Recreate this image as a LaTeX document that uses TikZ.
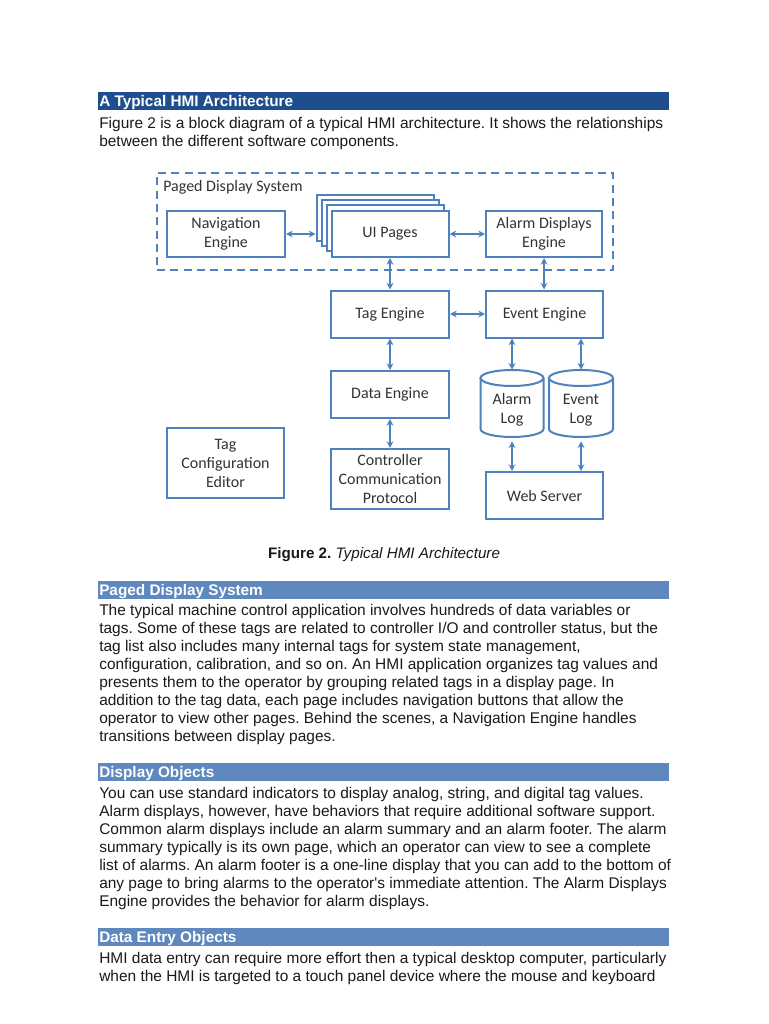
\documentclass[tikz,border=0pt]{standalone}
\usepackage{fontspec}
\setmainfont{Liberation Sans}
\newfontfamily\diagfont{Carlito}
\usetikzlibrary{arrows.meta}
\definecolor{hdark}{HTML}{1F4E8C}
\definecolor{hlight}{HTML}{5F88BE}
\definecolor{boxc}{HTML}{4F81BD}
\definecolor{dtext}{HTML}{333333}
\definecolor{btext}{HTML}{1A1A1A}
\frenchspacing
\begin{document}
\begin{tikzpicture}[x=0.75pt,y=-0.75pt,
  box/.style={draw=boxc,line width=1.5pt,fill=white,inner sep=0pt,align=center,
    font=\diagfont\fontsize{12}{14.2}\selectfont,text=dtext},
  page/.style={draw=boxc,line width=1.5pt,fill=white,inner sep=0pt,
    minimum width=87.75pt,minimum height=34.5pt},
  cyltext/.style={inner sep=0pt,align=center,font=\diagfont\fontsize{12}{14.2}\selectfont,text=dtext},
  cylbox/.style={inner sep=0pt,minimum width=47pt,minimum height=50.25pt},
  conn/.style={draw=boxc,line width=1.5pt,{Stealth[length=5pt,width=5pt]}-{Stealth[length=5pt,width=5pt]}},
  cylline/.style={draw=boxc,line width=1.5pt},
  body/.style={anchor=base west,inner sep=0pt,font=\fontsize{11.6}{12}\selectfont,text=btext},
  bar/.style={anchor=north west,inner sep=0pt,minimum width=428.25pt,minimum height=13.5pt},
  bartext/.style={anchor=base west,inner sep=0pt,font=\bfseries\fontsize{11.5}{12}\selectfont,text=white}
]
\useasboundingbox[fill=white] (0,0) rectangle (768,1024);

% ---- Top heading and paragraph
\node[bar,fill=hdark] (bar1) at (98,92) {};
\node[bartext] (h1) at (99,106) {A Typical HMI Architecture};
\node[body] (p1) at (99,128) {Figure 2 is a block diagram of a typical HMI architecture. It shows the relationships};
\node[body] (p2) at (99,146) {between the different software components.};

% ---- Diagram
\node[draw=boxc,line width=1.5pt,dash pattern=on 6pt off 4pt,minimum width=342pt,minimum height=72.75pt,inner sep=0pt] (pds) at (385,221.5) {};
\node[anchor=west,inner sep=0pt,font=\diagfont\fontsize{12}{14.2}\selectfont,text=dtext] (pdslabel) at (163,187) {Paged Display System};

\node[box,minimum width=88.5pt,minimum height=34.5pt] (nav) at (226,234) {Navigation\\Engine};
\node[page] (page1) at (375,218) {};
\node[page] (page2) at (380,223) {};
\node[page] (page3) at (385,228) {};
\node[box,minimum width=87.75pt,minimum height=34.5pt] (ui) at (390,234) {UI Pages};
\node[box,minimum width=87pt,minimum height=34.5pt] (alarm) at (544,234) {Alarm Displays\\Engine};

\node[box,minimum width=88.5pt,minimum height=35.25pt] (tag) at (390,314) {Tag Engine};
\node[box,minimum width=87.75pt,minimum height=35.25pt] (event) at (544.5,314) {Event Engine};
\node[box,minimum width=88.5pt,minimum height=35.25pt] (data) at (390,394.5) {Data Engine};
\node[box,minimum width=88.5pt,minimum height=45pt] (ctrl) at (390,479) {Controller\\Communication\\Protocol};
\node[box,minimum width=87.75pt,minimum height=35.25pt] (web) at (544.5,495.5) {Web Server};
\node[box,minimum width=87.75pt,minimum height=52.5pt] (tce) at (225.5,463) {Tag\\Configuration\\Editor};

% cylinders
\node[cylbox] (alarmlog) at (512,403.5) {};
\node[cylbox] (eventlog) at (581,403.5) {};
\draw[cylline,fill=white] (480.5,378) -- (480.5,429)
  .. controls (480.5,433.4) and (494.6,437) .. (512,437)
  .. controls (529.4,437) and (543.5,433.4) .. (543.5,429) -- (543.5,378);
\draw[cylline,fill=white] (512,378) ellipse [x radius=31.5, y radius=8];
\draw[cylline,fill=white] (549,378) -- (549,429)
  .. controls (549,433.4) and (563.3,437) .. (581,437)
  .. controls (598.7,437) and (613,433.4) .. (613,429) -- (613,378);
\draw[cylline,fill=white] (581,378) ellipse [x radius=32, y radius=8];
\node[cyltext] (altext) at (512,410) {Alarm\\Log};
\node[cyltext] (evtext) at (581,410) {Event\\Log};

% connectors
\draw[conn] (nav.east) -- (nav.east -| page1.west);
\draw[conn] (ui.east) -- (alarm.west);
\draw[conn] (ui.south) -- (ui.south |- tag.north);
\draw[conn] (alarm.south) -- (alarm.south |- event.north);
\draw[conn] (tag.east) -- (event.west);
\draw[conn] (tag.south) -- (data.north);
\draw[conn] (data.south) -- (ctrl.north);
\draw[conn] (event.south -| alarmlog) -- (alarmlog.north);
\draw[conn] (event.south -| eventlog) -- (eventlog.north);
\draw[conn] ([yshift=-3pt]alarmlog.south) -- (alarmlog.south |- web.north);
\draw[conn] ([yshift=-3pt]eventlog.south) -- (eventlog.south |- web.north);

% caption
\node[anchor=base,inner sep=0pt,font=\fontsize{11.4}{12}\selectfont,text=btext] (cap) at (384,558) {\textbf{Figure 2.} \textit{Typical HMI Architecture}};

% ---- Paged Display System
\node[bar,fill=hlight] (bar2) at (98,581) {};
\node[bartext] (h2) at (99,595) {Paged Display System};
\node[body] (a1) at (99,615) {The typical machine control application involves hundreds of data variables or};
\node[body] (a2) at (99,633) {tags. Some of these tags are related to controller I/O and controller status, but the};
\node[body] (a3) at (99,651) {tag list also includes many internal tags for system state management,};
\node[body] (a4) at (99,669) {configuration, calibration, and so on. An HMI application organizes tag values and};
\node[body] (a5) at (99,687) {presents them to the operator by grouping related tags in a display page. In};
\node[body] (a6) at (99,705) {addition to the tag data, each page includes navigation buttons that allow the};
\node[body] (a7) at (99,723) {operator to view other pages. Behind the scenes, a Navigation Engine handles};
\node[body] (a8) at (99,741) {transitions between display pages.};

% ---- Display Objects
\node[bar,fill=hlight] (bar3) at (98,763) {};
\node[bartext] (h3) at (99,777) {Display Objects};
\node[body] (b1) at (99,798) {You can use standard indicators to display analog, string, and digital tag values.};
\node[body] (b2) at (99,816) {Alarm displays, however, have behaviors that require additional software support.};
\node[body] (b3) at (99,834) {Common alarm displays include an alarm summary and an alarm footer. The alarm};
\node[body] (b4) at (99,852) {summary typically is its own page, which an operator can view to see a complete};
\node[body] (b5) at (99,870) {list of alarms. An alarm footer is a one-line display that you can add to the bottom of};
\node[body] (b6) at (99,888) {any page to bring alarms to the operator\textquotesingle s immediate attention. The Alarm Displays};
\node[body] (b7) at (99,906) {Engine provides the behavior for alarm displays.};

% ---- Data Entry Objects
\node[bar,fill=hlight] (bar4) at (98,928) {};
\node[bartext] (h4) at (99,942) {Data Entry Objects};
\node[body] (c1) at (99,963) {HMI data entry can require more effort then a typical desktop computer, particularly};
\node[body] (c2) at (99,981) {when the HMI is targeted to a touch panel device where the mouse and keyboard};
\end{tikzpicture}
\end{document}
